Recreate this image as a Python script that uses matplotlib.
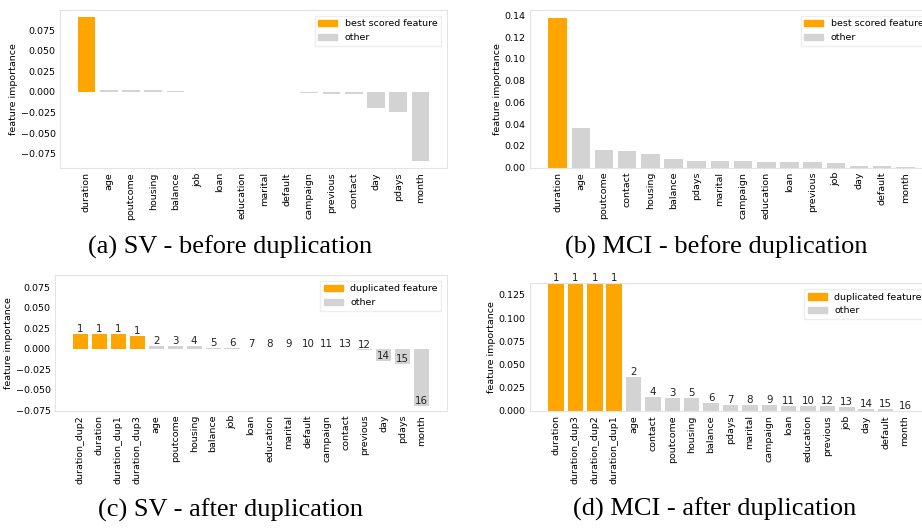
import matplotlib

matplotlib.use("Agg")
import matplotlib.pyplot as plt
from matplotlib.patches import Patch

ORANGE = "#ffa500"
GREY = "#d3d3d3"
SPINE = "#e3e3e3"
FS = 6.8

# (a) SV - before duplication
sv_before_names = ["duration", "age", "poutcome", "housing", "balance", "job", "loan",
                   "education", "marital", "default", "campaign", "previous", "contact",
                   "day", "pdays", "month"]
sv_before_vals = [0.0907, 0.0028, 0.0025, 0.0025, 0.0010, 0.0005, 0.0003,
                  0.0003, 0.0002, 0.0, -0.0008, -0.0028, -0.0030,
                  -0.0189, -0.0246, -0.0835]

# (b) MCI - before duplication
mci_before_names = ["duration", "age", "poutcome", "contact", "housing", "balance", "pdays",
                    "marital", "campaign", "education", "loan", "previous", "job", "day",
                    "default", "month"]
mci_before_vals = [0.1380, 0.0366, 0.0159, 0.0153, 0.0125, 0.0082, 0.0061,
                   0.0061, 0.0060, 0.0052, 0.0052, 0.0050, 0.0043, 0.0018,
                   0.0017, 0.0002]

# (c) SV - after duplication
sv_after_names = ["duration_dup2", "duration", "duration_dup1", "duration_dup3", "age",
                  "poutcome", "housing", "balance", "job", "loan", "education", "marital",
                  "default", "campaign", "contact", "previous", "day", "pdays", "month"]
sv_after_vals = [0.0179, 0.0177, 0.0177, 0.0162, 0.0028,
                 0.0028, 0.0028, 0.0010, 0.0005, 0.0003, 0.0003, 0.0001,
                 0.0, -0.0005, -0.0008, -0.0020, -0.0143, -0.0187, -0.0703]
sv_after_ranks = [1, 1, 1, 1, 2, 3, 4, 5, 6, 7, 8, 9, 10, 11, 13, 12, 14, 15, 16]

# (d) MCI - after duplication
mci_after_names = ["duration", "duration_dup3", "duration_dup2", "duration_dup1", "age",
                   "contact", "poutcome", "housing", "balance", "pdays", "marital",
                   "campaign", "loan", "education", "previous", "job", "day", "default",
                   "month"]
mci_after_vals = [0.1376, 0.1376, 0.1376, 0.1376, 0.0370,
                  0.0154, 0.0143, 0.0143, 0.0089, 0.0068, 0.0068,
                  0.0068, 0.0057, 0.0057, 0.0055, 0.0043, 0.0025, 0.0024,
                  0.0002]
mci_after_ranks = [1, 1, 1, 1, 2, 4, 3, 5, 6, 7, 8, 9, 11, 10, 12, 13, 14, 15, 16]


def DrawPanel(ax, names, vals, n_hi, legend_label, ranks=None):
    x = list(range(len(names)))
    colors = [ORANGE if i < n_hi else GREY for i in x]
    ax.bar(x, vals, width=0.8, color=colors)
    ax.set_xticks(x)
    ax.set_xticklabels(names, rotation=90, fontsize=FS)
    ax.tick_params(axis="both", length=0, labelsize=FS, pad=3)
    ax.set_ylabel("feature importance", fontsize=FS, labelpad=2)
    for s in ax.spines.values():
        s.set_color(SPINE)
        s.set_linewidth(0.8)
    handles = [Patch(color=ORANGE), Patch(color=GREY)]
    ax.legend(handles, [legend_label, "other"], loc="upper right", fontsize=FS,
              frameon=True, edgecolor="#eeeeee", framealpha=1.0, fancybox=False,
              handlelength=2.0, borderaxespad=0.6)
    if ranks is not None:
        for xi, v, r in zip(x, vals, ranks):
            ax.text(xi, v, str(r), ha="center", va="bottom", fontsize=FS + 0.6,
                    color="#222222")


fig = plt.figure(figsize=(9.22, 5.29), dpi=100)
W, H = 922.0, 529.0


def AddAxes(l, t, r, b):
    return fig.add_axes([l / W, 1 - b / H, (r - l) / W, (b - t) / H])


ax_a = AddAxes(60, 10, 447, 168)
DrawPanel(ax_a, sv_before_names, sv_before_vals, 1, "best scored feature")
ax_a.set_yticks([-0.075, -0.05, -0.025, 0.0, 0.025, 0.05, 0.075])

ax_b = AddAxes(530, 10, 933, 167.7)
DrawPanel(ax_b, mci_before_names, mci_before_vals, 1, "best scored feature")
ax_b.set_yticks([0.0, 0.02, 0.04, 0.06, 0.08, 0.10, 0.12, 0.14])
ax_b.set_yticklabels([f"{v:.2f}" for v in ax_b.get_yticks()])

ax_c = AddAxes(55, 275, 447, 410.7)
DrawPanel(ax_c, sv_after_names, sv_after_vals, 4, "duplicated feature", sv_after_ranks)
ax_c.set_ylim(-0.0755, 0.090)
ax_c.set_yticks([-0.075, -0.05, -0.025, 0.0, 0.025, 0.05, 0.075])

ax_d = AddAxes(530, 283.3, 931, 411)
DrawPanel(ax_d, mci_after_names, mci_after_vals, 4, "duplicated feature", mci_after_ranks)
ax_d.set_ylim(0, 0.1376)
ax_d.set_yticks([0.0, 0.025, 0.05, 0.075, 0.10, 0.125])
ax_d.set_yticklabels([f"{v:.3f}" for v in ax_d.get_yticks()])

for ax in (ax_a, ax_c):
    ax.set_yticklabels([f"{v:.3f}".replace("-", "\u2212") for v in ax.get_yticks()])

captions = [
    (230, 247, "(a) SV - before duplication"),
    (716, 247, "(b) MCI - before duplication"),
    (230, 510, "(c) SV - after duplication"),
    (715, 509, "(d) MCI - after duplication"),
]
for cx, cy, txt in captions:
    fig.text(cx / W, 1 - cy / H, txt, ha="center", va="center",
             fontsize=19, family="Liberation Serif")

fig.savefig("out.png", dpi=100)
